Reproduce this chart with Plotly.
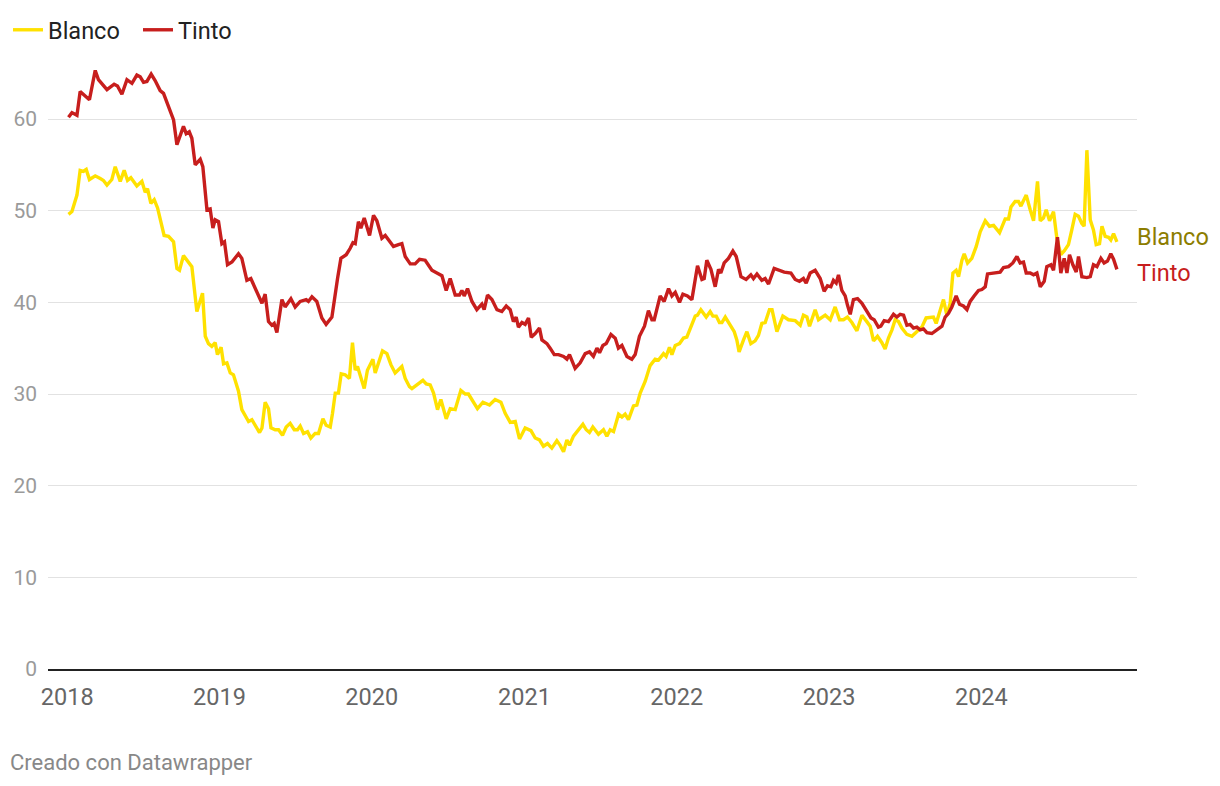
import pandas as pd
import plotly.graph_objects as go

# Time as years elapsed since 2018-01-01
tinto_t = [0.0085, 0.031, 0.064, 0.085, 0.146, 0.184, 0.205, 0.261, 0.308, 0.330, 0.359, 0.392, 0.425, 0.457,
           0.479, 0.501, 0.523, 0.551, 0.577, 0.610, 0.632, 0.665, 0.698, 0.720, 0.763, 0.781, 0.801, 0.818,
           0.840, 0.873, 0.890, 0.917, 0.938, 0.956, 0.971, 0.993, 1.015, 1.032, 1.052, 1.081, 1.124, 1.146,
           1.179, 1.205, 1.245, 1.278, 1.299, 1.321, 1.343, 1.358, 1.376, 1.409, 1.430, 1.468, 1.496, 1.529,
           1.568, 1.583, 1.606, 1.638, 1.671, 1.699, 1.737, 1.759, 1.774, 1.796, 1.831, 1.857, 1.875, 1.890,
           1.911, 1.927, 1.949, 1.984, 2.010, 2.032, 2.065, 2.087, 2.119, 2.141, 2.174, 2.196, 2.218, 2.251,
           2.283, 2.312, 2.349, 2.393, 2.426, 2.459, 2.487, 2.513, 2.546, 2.574, 2.590, 2.605, 2.627, 2.656,
           2.688, 2.721, 2.736, 2.758, 2.787, 2.820, 2.852, 2.881, 2.907, 2.928, 2.946, 2.961, 2.984, 3.005,
           3.027, 3.045, 3.071, 3.099, 3.115, 3.148, 3.169, 3.196, 3.224, 3.257, 3.279, 3.296, 3.333, 3.366,
           3.399, 3.427, 3.453, 3.476, 3.493, 3.515, 3.537, 3.568, 3.596, 3.617, 3.640, 3.673, 3.705, 3.727,
           3.755, 3.788, 3.814, 3.837, 3.852, 3.891, 3.917, 3.946, 3.968, 3.990, 4.018, 4.040, 4.070, 4.099,
           4.136, 4.165, 4.180, 4.197, 4.224, 4.252, 4.274, 4.289, 4.311, 4.339, 4.368, 4.390, 4.421, 4.455,
           4.486, 4.503, 4.526, 4.558, 4.580, 4.602, 4.639, 4.667, 4.705, 4.749, 4.777, 4.805, 4.831, 4.849,
           4.875, 4.908, 4.941, 4.967, 4.989, 5.011, 5.028, 5.046, 5.061, 5.083, 5.105, 5.120, 5.138, 5.159,
           5.186, 5.215, 5.243, 5.274, 5.295, 5.323, 5.339, 5.361, 5.389, 5.422, 5.444, 5.466, 5.488, 5.510,
           5.531, 5.553, 5.575, 5.597, 5.619, 5.641, 5.674, 5.707, 5.740, 5.761, 5.783, 5.805, 5.833, 5.855,
           5.881, 5.904, 5.925, 5.951, 5.980, 6.002, 6.024, 6.039, 6.068, 6.101, 6.122, 6.144, 6.177, 6.205,
           6.232, 6.253, 6.275, 6.293, 6.319, 6.341, 6.363, 6.385, 6.411, 6.428, 6.455, 6.472, 6.498, 6.520,
           6.542, 6.560, 6.577, 6.599, 6.621, 6.636, 6.658, 6.691, 6.713, 6.734, 6.757, 6.783, 6.804, 6.826,
           6.848, 6.866, 6.888]
tinto_v = [60.2, 60.7, 60.4, 63.0, 62.1, 65.3, 64.3, 63.2, 63.8, 63.6, 62.7, 64.3, 63.9, 64.8,
           64.6, 64.0, 64.1, 64.9, 64.2, 63.1, 62.8, 61.3, 59.9, 57.2, 59.2, 58.4, 58.6, 57.9,
           55.0, 55.6, 54.8, 50.1, 50.2, 48.1, 49.0, 48.8, 46.4, 46.6, 44.1, 44.4, 45.3, 44.8,
           42.4, 42.6, 41.2, 39.9, 40.9, 37.9, 37.5, 37.7, 36.7, 40.3, 39.5, 40.4, 39.5, 40.1,
           40.3, 40.1, 40.6, 40.1, 38.3, 37.6, 38.4, 41.3, 42.6, 44.8, 45.2, 45.9, 46.5, 46.4,
           48.8, 48.1, 49.2, 47.3, 49.5, 48.9, 47.0, 47.3, 46.6, 46.1, 46.3, 46.4, 45.0, 44.2,
           44.2, 44.7, 44.6, 43.5, 43.2, 42.9, 41.3, 42.6, 40.8, 40.8, 41.3, 40.7, 41.5, 40.1,
           39.2, 39.8, 39.2, 40.8, 40.3, 39.2, 39.0, 39.6, 39.2, 37.9, 38.4, 37.3, 37.8, 37.6,
           38.3, 36.2, 36.6, 37.2, 35.9, 35.5, 35.0, 34.3, 34.3, 34.1, 33.8, 34.3, 32.8, 33.4,
           34.4, 34.6, 34.1, 35.0, 34.5, 35.3, 35.5, 36.5, 36.1, 35.0, 35.3, 34.1, 33.8, 34.3,
           36.3, 37.4, 39.1, 38.1, 38.1, 40.7, 40.1, 41.5, 40.7, 41.1, 40.0, 40.9, 40.7, 40.3,
           44.0, 42.5, 42.6, 44.6, 43.6, 41.7, 43.6, 43.2, 44.3, 44.8, 45.6, 45.0, 42.8, 42.5,
           43.0, 42.6, 43.1, 42.4, 42.6, 42.0, 43.7, 43.5, 43.3, 43.2, 42.5, 42.3, 42.6, 42.1,
           43.2, 43.5, 42.6, 41.2, 41.8, 41.7, 42.4, 42.1, 43.0, 41.3, 40.7, 39.7, 38.7, 40.3,
           40.4, 39.9, 39.2, 38.3, 38.1, 37.3, 37.4, 38.0, 37.9, 38.7, 38.4, 38.7, 38.6, 37.5,
           37.6, 37.2, 37.3, 37.0, 37.1, 36.7, 36.6, 37.0, 37.4, 38.4, 38.8, 39.5, 40.7, 39.8,
           39.6, 39.2, 40.1, 40.7, 41.3, 41.4, 41.7, 43.1, 43.2, 43.3, 43.3, 43.8, 43.9, 44.3,
           45.0, 44.3, 44.4, 43.2, 43.2, 43.0, 43.2, 41.7, 42.3, 43.9, 44.1, 43.5, 47.1, 43.2,
           44.8, 43.2, 45.2, 44.1, 43.3, 45.0, 42.8, 42.7, 42.8, 44.1, 43.9, 44.8, 44.3, 44.5,
           45.3, 44.7, 43.6]

blanco_t = [0.0085, 0.031, 0.064, 0.085, 0.107, 0.125, 0.146, 0.184, 0.217, 0.238, 0.261, 0.293, 0.315, 0.348,
            0.374, 0.396, 0.418, 0.457, 0.490, 0.512, 0.527, 0.549, 0.571, 0.593, 0.636, 0.665, 0.698, 0.720,
            0.737, 0.763, 0.818, 0.851, 0.888, 0.906, 0.927, 0.949, 0.971, 0.986, 1.010, 1.026, 1.048, 1.070,
            1.091, 1.124, 1.146, 1.168, 1.190, 1.212, 1.234, 1.262, 1.278, 1.299, 1.321, 1.337, 1.365, 1.387,
            1.413, 1.437, 1.463, 1.490, 1.511, 1.529, 1.551, 1.577, 1.599, 1.627, 1.649, 1.678, 1.699, 1.726,
            1.741, 1.759, 1.780, 1.798, 1.824, 1.852, 1.872, 1.890, 1.905, 1.923, 1.949, 1.970, 2.006, 2.021,
            2.043, 2.069, 2.098, 2.124, 2.152, 2.174, 2.196, 2.218, 2.246, 2.262, 2.295, 2.334, 2.356, 2.382,
            2.404, 2.430, 2.452, 2.487, 2.513, 2.546, 2.583, 2.612, 2.633, 2.662, 2.692, 2.728, 2.771, 2.808,
            2.846, 2.874, 2.907, 2.940, 2.968, 3.005, 3.043, 3.071, 3.099, 3.125, 3.152, 3.180, 3.213, 3.235,
            3.257, 3.279, 3.296, 3.322, 3.355, 3.384, 3.406, 3.427, 3.449, 3.486, 3.519, 3.541, 3.563, 3.585,
            3.618, 3.640, 3.661, 3.683, 3.716, 3.738, 3.760, 3.793, 3.825, 3.858, 3.880, 3.913, 3.930, 3.952,
            3.968, 3.990, 4.018, 4.044, 4.066, 4.093, 4.121, 4.136, 4.158, 4.193, 4.219, 4.237, 4.259, 4.280,
            4.296, 4.318, 4.346, 4.377, 4.394, 4.409, 4.438, 4.460, 4.486, 4.514, 4.536, 4.558, 4.580, 4.608,
            4.625, 4.657, 4.696, 4.733, 4.777, 4.810, 4.831, 4.854, 4.871, 4.908, 4.930, 4.974, 5.007, 5.039,
            5.068, 5.094, 5.120, 5.149, 5.182, 5.215, 5.247, 5.269, 5.291, 5.317, 5.346, 5.367, 5.389, 5.412,
            5.433, 5.455, 5.477, 5.510, 5.543, 5.575, 5.608, 5.636, 5.663, 5.684, 5.702, 5.728, 5.750, 5.772,
            5.794, 5.812, 5.833, 5.849, 5.871, 5.886, 5.908, 5.936, 5.965, 5.991, 6.024, 6.052, 6.079, 6.118,
            6.155, 6.177, 6.193, 6.220, 6.242, 6.258, 6.293, 6.319, 6.341, 6.367, 6.385, 6.406, 6.424, 6.446,
            6.472, 6.494, 6.520, 6.542, 6.570, 6.592, 6.614, 6.636, 6.658, 6.673, 6.691, 6.713, 6.734, 6.752,
            6.774, 6.790, 6.811, 6.833, 6.848, 6.866, 6.888]
blanco_v = [49.6, 49.9, 51.7, 54.4, 54.3, 54.5, 53.4, 53.8, 53.5, 53.3, 52.8, 53.4, 54.8, 53.2,
            54.4, 53.3, 53.6, 52.7, 53.2, 52.0, 52.4, 50.8, 51.2, 50.3, 47.3, 47.2, 46.6, 43.7,
            43.5, 45.1, 43.9, 39.0, 41.0, 36.3, 35.5, 35.2, 35.6, 34.3, 35.1, 33.3, 33.4, 32.3,
            32.1, 30.3, 28.3, 27.7, 27.0, 27.2, 26.6, 25.8, 26.3, 29.1, 28.4, 26.3, 26.1, 26.1,
            25.5, 26.4, 26.8, 26.1, 26.1, 26.5, 25.7, 25.9, 25.2, 25.7, 25.7, 27.3, 26.6, 26.4,
            27.9, 30.1, 30.1, 32.2, 32.1, 31.7, 35.6, 32.6, 33.0, 31.9, 30.6, 32.6, 33.8, 32.3,
            33.3, 34.7, 34.4, 33.2, 32.3, 32.6, 33.0, 31.7, 30.8, 30.6, 31.0, 31.5, 31.1, 31.0,
            30.1, 28.3, 29.4, 27.3, 28.4, 28.3, 30.4, 30.0, 30.0, 29.2, 28.4, 29.1, 28.8, 29.4,
            29.1, 27.9, 26.9, 27.0, 25.1, 26.3, 26.0, 25.2, 25.0, 24.3, 24.6, 24.1, 24.9, 24.4,
            23.7, 25.0, 24.4, 25.4, 26.1, 26.7, 26.1, 25.8, 26.4, 25.6, 26.1, 25.4, 26.1, 25.9,
            27.8, 27.5, 27.8, 27.2, 28.7, 28.8, 30.1, 31.4, 33.1, 33.8, 33.7, 34.4, 34.1, 35.1,
            34.3, 35.3, 35.5, 36.1, 36.2, 37.4, 38.5, 38.6, 39.2, 38.4, 39.0, 38.5, 38.5, 37.8,
            37.8, 38.4, 37.7, 36.8, 35.9, 34.6, 35.9, 36.8, 35.5, 35.8, 36.4, 37.7, 37.8, 39.2,
            39.2, 36.8, 38.5, 38.1, 38.0, 37.5, 38.6, 38.4, 37.4, 39.2, 38.1, 38.6, 38.1, 39.5,
            38.1, 38.1, 38.4, 37.8, 36.9, 38.6, 37.9, 37.4, 35.8, 36.3, 35.6, 34.9, 36.1, 37.0,
            38.1, 37.9, 37.2, 36.5, 36.3, 36.8, 37.3, 38.3, 38.4, 38.4, 37.7, 39.2, 40.3, 38.6,
            39.9, 43.2, 43.5, 42.8, 44.6, 45.3, 44.3, 44.8, 46.1, 47.7, 48.9, 48.3, 48.4, 47.6,
            49.1, 49.1, 50.4, 51.0, 51.0, 50.5, 51.7, 50.1, 48.9, 53.2, 48.9, 49.2, 50.1, 48.9,
            49.9, 47.0, 45.2, 45.6, 46.3, 47.9, 49.6, 49.4, 48.6, 48.3, 56.6, 49.0, 47.9, 46.3,
            46.4, 48.3, 47.2, 47.1, 46.8, 47.5, 46.6]

series_names = ["Blanco", "Tinto"]
series_colors = ["#ffe100", "#c71e1d"]
label_colors = ["#8c7d00", "#c71e1d"]
y_ticks = [0, 10, 20, 30, 40, 50, 60]
x_years = [2018, 2019, 2020, 2021, 2022, 2023, 2024]

base = pd.Timestamp("2018-01-01")


def to_dates(ts):
    return [base + pd.Timedelta(days=t * 365.25) for t in ts]


FONT = "Roboto"
# The page body adds an 8px margin, so the figure is 8px smaller on each axis
W, H = 1212, 778
ML, MR, MT, MB = 40, 83, 52, 117
plot_w = W - ML - MR
plot_h = H - MT - MB

fig = go.Figure()
data = [(blanco_t, blanco_v), (tinto_t, tinto_v)]
for (ts, vs), name, col in zip(data, series_names, series_colors):
    fig.add_trace(go.Scatter(
        x=to_dates(ts), y=vs, mode="lines", name=name,
        line=dict(color=col, width=3.4, shape="linear"),
    ))

# end labels
shifts = [5, -4]
for (ts, vs), name, col, sh in zip(data, series_names, label_colors, shifts):
    fig.add_annotation(
        x=1.0, xref="paper", y=vs[-1], yref="y", text=name, showarrow=False,
        xanchor="left", yanchor="middle", xshift=-2, yshift=sh,
        font=dict(family=FONT, size=23.5, color=col),
    )

# footer (page position ~ (10, 762))
fig.add_annotation(
    x=(0 - ML) / plot_w, xref="paper", y=-(754 - (H - MB)) / plot_h, yref="paper",
    text="Creado con Datawrapper", showarrow=False,
    xanchor="left", yanchor="middle", font=dict(family=FONT, size=22, color="#888888"),
)

fig.update_layout(
    width=W, height=H,
    paper_bgcolor="white", plot_bgcolor="white",
    margin=dict(l=ML, r=MR, t=MT, b=MB, autoexpand=False),
    font=dict(family=FONT, size=21, color="#333333"),
    showlegend=True,
    legend=dict(
        orientation="h", xref="container", yref="container", x=0.0, y=1.0,
        xanchor="left", yanchor="top", font=dict(family=FONT, size=23.5, color="#222222"),
        itemwidth=30, entrywidth=85, tracegroupgap=0, bgcolor="rgba(0,0,0,0)",
    ),
    xaxis=dict(
        type="date", automargin=False,
        range=[base - pd.Timedelta(days=46), base + pd.Timedelta(days=2564)],
        tickvals=[pd.Timestamp(f"{y}-01-01") for y in x_years],
        ticktext=[str(y) for y in x_years],
        showgrid=False, zeroline=False,
        showline=True, linecolor="#222222", linewidth=2,
        ticks="", ticklabelstandoff=6,
        tickfont=dict(family=FONT, size=23.5, color="#666666"),
    ),
    yaxis=dict(
        automargin=False,
        range=[0, 66.44], tickvals=y_ticks, ticktext=[str(v) for v in y_ticks],
        showgrid=True, gridcolor="#e2e2e2", gridwidth=1.3, zeroline=False,
        showline=False, ticks="", ticklabelstandoff=10,
        tickfont=dict(family=FONT, size=21, color="#9a9a9a"),
    ),
)

fig.write_html("out.html")
